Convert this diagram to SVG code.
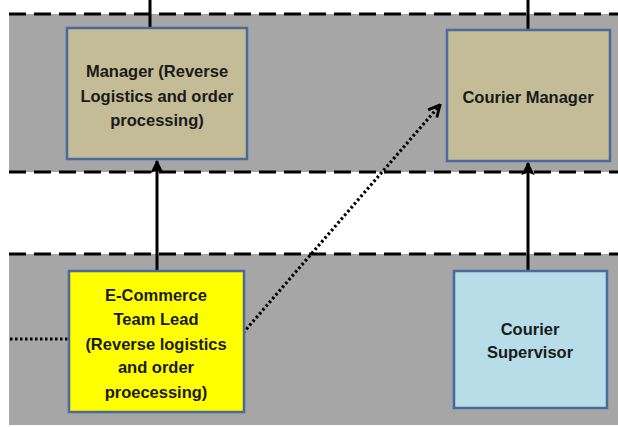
<svg xmlns="http://www.w3.org/2000/svg" width="618" height="427" viewBox="0 0 618 427">
<style>
.band{fill:#a6a6a6}
.dash{stroke:#000;stroke-width:3;stroke-dasharray:17 8;fill:none}
.box{stroke:#4a6a9c;stroke-width:2.5}
.t{font-family:"Liberation Sans",Arial,sans-serif;font-weight:bold;font-size:16.5px;fill:#1a1a1a;text-anchor:middle}
.solid{stroke:#000;stroke-width:3;fill:none}
.dot{stroke:#000;stroke-width:3.2;stroke-dasharray:2.5 2.5;fill:none}
</style>
<defs>
<marker id="ah" viewBox="0 0 10 10" refX="9" refY="5" markerWidth="4.5" markerHeight="4.5" orient="auto" markerUnits="strokeWidth">
<path d="M0,0 L10,5 L0,10 L2,5 z" fill="#000"/>
</marker>
<marker id="ov" viewBox="0 0 10 10" refX="9" refY="5" markerWidth="4.5" markerHeight="4.5" orient="auto" markerUnits="strokeWidth">
<path d="M1,1 L9,5 L1,9" fill="none" stroke="#000" stroke-width="2"/>
</marker>
</defs>
<rect width="618" height="427" fill="#fff"/>
<g id="bands">
<rect class="band" x="9" y="14" width="609" height="158"/>
<rect class="band" x="9" y="254" width="609" height="171"/>
<line class="dash" x1="9" y1="14" x2="618" y2="14"/>
<line class="dash" x1="9" y1="172" x2="618" y2="172"/>
<line class="dash" x1="9" y1="254" x2="618" y2="254"/>
</g>
<g id="connectors">
<line class="solid" x1="150" y1="0" x2="150" y2="28"/>
<line class="solid" x1="528" y1="0" x2="528" y2="30"/>
<line class="solid" x1="157" y1="271" x2="157" y2="161" marker-end="url(#ah)"/>
<line class="solid" x1="528" y1="271" x2="528" y2="163" marker-end="url(#ah)"/>
<line class="dot" x1="10" y1="339" x2="68" y2="339"/>
<line class="dot" x1="243" y1="333" x2="440" y2="105" marker-end="url(#ov)"/>
<circle cx="237" cy="339" r="1.5" fill="#000"/>
</g>
<g id="manager">
<rect class="box" x="67" y="28" width="180" height="131" fill="#c4bc96"/>
<text class="t" x="157" y="77">Manager (Reverse</text>
<text class="t" x="157" y="102">Logistics and order</text>
<text class="t" x="157" y="126">processing)</text>
</g>
<g id="courier-manager">
<rect class="box" x="447" y="30" width="163" height="131" fill="#c4bc96"/>
<text class="t" x="528" y="103">Courier Manager</text>
</g>
<g id="ecommerce-lead">
<rect class="box" x="69" y="271" width="175" height="141" fill="#ffff00"/>
<text class="t" x="156" y="301">E-Commerce</text>
<text class="t" x="156" y="325">Team Lead</text>
<text class="t" x="156" y="350">(Reverse logistics</text>
<text class="t" x="156" y="373">and order</text>
<text class="t" x="156" y="398">proecessing)</text>
</g>
<g id="courier-supervisor">
<rect class="box" x="454" y="271" width="153" height="137" fill="#b7dde8"/>
<text class="t" x="530" y="335">Courier</text>
<text class="t" x="530" y="358">Supervisor</text>
</g>
</svg>
